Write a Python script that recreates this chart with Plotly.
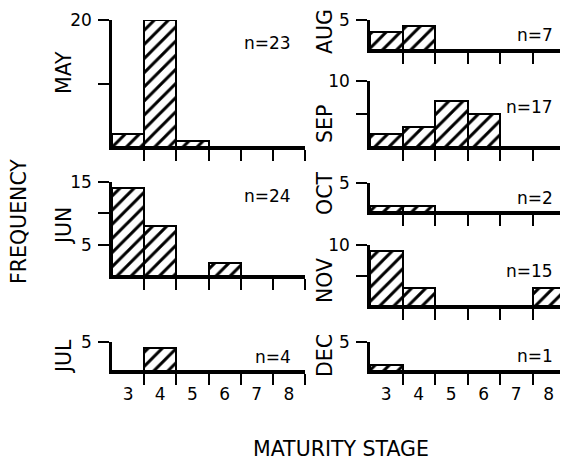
import plotly.graph_objects as go

# ---------------- data ----------------
stages = [3, 4, 5, 6, 7, 8]
stage_labels = ["3", "4", "5", "6", "7", "8"]

may = [2, 20, 1, 0, 0, 0]
jun = [14, 8, 0, 2, 0, 0]
jul = [0, 4, 0, 0, 0, 0]
aug = [3, 4, 0, 0, 0, 0]
sep = [2, 3, 7, 5, 0, 0]
octo = [1, 1, 0, 0, 0, 0]
nov = [9, 3, 0, 0, 0, 3]
dec = [1, 0, 0, 0, 0, 0]

months = ["MAY", "JUN", "JUL", "AUG", "SEP", "OCT", "NOV", "DEC"]
series = [may, jun, jul, aug, sep, octo, nov, dec]
y_max = [20, 15, 5, 5, 10, 5, 10, 5]
y_ticks = [[10, 20], [5, 10, 15], [5], [5], [5, 10], [5], [5, 10], [5]]
y_tick_text = [["", "20"], ["5", "", "15"], ["5"], ["5"], ["", "10"], ["5"], ["", "10"], ["5"]]

# ---------------- layout (pixel geometry, window coords) ----------------
OFF = 8                      # default page body margin
W, H = 568 - OFF, 461 - OFF
cols = {"L": (112, 305), "R": (370, 565)}
# month: column, top px, bottom px, month-label y px, n-label y px, show x labels
panel = {
    "MAY": ("L", 20, 147, 73, 43, False),
    "JUN": ("L", 182, 276, 226, 196, False),
    "JUL": ("L", 342, 371, 357, 357, True),
    "AUG": ("R", 20, 50, 32, 35, False),
    "SEP": ("R", 81, 147, 124, 107, False),
    "OCT": ("R", 183, 212, 194, 198, False),
    "NOV": ("R", 245, 306, 281, 271, False),
    "DEC": ("R", 342, 371, 356, 356, True),
}
month_label_x = {"L": 64, "R": 325}
n_label_right = {"L": 293, "R": 555}


def px(x):
    return (x - OFF) / W


def py(y):
    return 1 - (y - OFF) / H


FONT = "DejaVu Sans"

fig = go.Figure()
annotations = []
layout = {}

for i, (m, vals) in enumerate(zip(months, series)):
    col, top, bot, ly, ny, showx = panel[m]
    k = i + 1
    xa = "x" if k == 1 else f"x{k}"
    ya = "y" if k == 1 else f"y{k}"
    fig.add_trace(go.Bar(
        x=stages, y=vals, width=1, xaxis=xa, yaxis=ya,
        marker=dict(color="white",
                    line=dict(color="black", width=2),
                    pattern=dict(shape="/", fgcolor="black", bgcolor="white",
                                 fgopacity=1, size=10, solidity=0.3)),
        cliponaxis=False, showlegend=False, hoverinfo="skip",
    ))
    x0, x1 = cols[col]
    layout["xaxis" if k == 1 else f"xaxis{k}"] = dict(
        domain=[px(x0), px(x1)], range=[2.5, 8.5], anchor=ya,
        showline=True, linecolor="black", linewidth=2.5,
        showgrid=False, zeroline=False, automargin=False,
        tickmode="array", tickvals=stages, ticktext=stage_labels,
        ticks="", showticklabels=showx, ticklabelstandoff=6,
        tickfont=dict(family=FONT, size=17, color="black"),
        minor=dict(tickmode="array", tickvals=[3.5, 4.5, 5.5, 6.5, 7.5, 8.5],
                   ticks="outside", ticklen=11, tickwidth=2, tickcolor="black",
                   showgrid=False),
        fixedrange=True,
    )
    layout["yaxis" if k == 1 else f"yaxis{k}"] = dict(
        domain=[py(bot), py(top)], range=[0, y_max[i]], anchor=xa,
        showline=True, linecolor="black", linewidth=2.5,
        showgrid=False, zeroline=False, automargin=False,
        tickmode="array", tickvals=y_ticks[i], ticktext=y_tick_text[i],
        ticks="outside", ticklen=11, tickwidth=2, tickcolor="black",
        ticklabelstandoff=3,
        tickfont=dict(family=FONT, size=17, color="black"),
        fixedrange=True,
    )
    annotations.append(dict(
        text=m, x=px(month_label_x[col]), y=py(ly), xref="paper", yref="paper",
        textangle=-90, showarrow=False, xanchor="center", yanchor="middle",
        font=dict(family=FONT, size=20.5, color="black"),
    ))
    annotations.append(dict(
        text=f"n={sum(vals)}", x=px(n_label_right[col]), y=py(ny),
        xref="paper", yref="paper", showarrow=False,
        xanchor="right", yanchor="middle",
        font=dict(family=FONT, size=17, color="black"),
    ))

annotations.append(dict(
    text="FREQUENCY", x=px(19), y=py(222), xref="paper", yref="paper",
    textangle=-90, showarrow=False, xanchor="center", yanchor="middle",
    font=dict(family=FONT, size=20.5, color="black"),
))
annotations.append(dict(
    text="MATURITY STAGE", x=px(341), y=py(449), xref="paper", yref="paper",
    showarrow=False, xanchor="center", yanchor="middle",
    font=dict(family=FONT, size=20.5, color="black"),
))

fig.update_layout(
    width=W, height=H, margin=dict(l=0, r=0, t=0, b=0),
    paper_bgcolor="white", plot_bgcolor="white",
    annotations=annotations, bargap=0, **layout,
)

fig.write_html("out.html", config={"displayModeBar": False})
